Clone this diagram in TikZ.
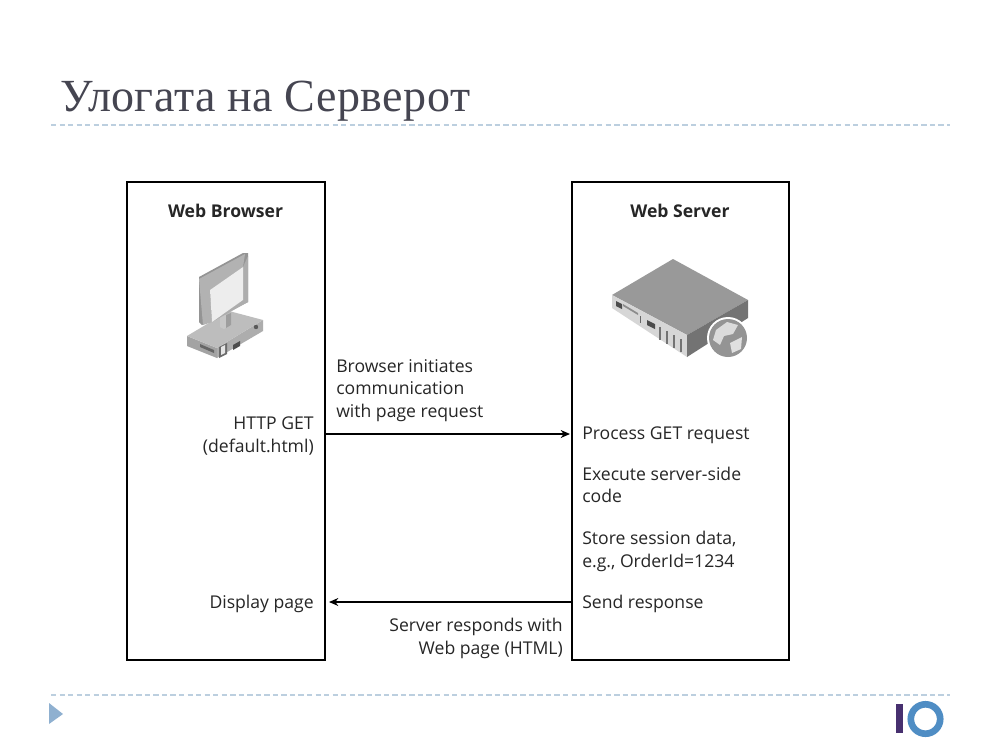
\documentclass[tikz,border=0pt]{standalone}
\usepackage{fontspec}
\setmainfont{Open Sans}
\newfontfamily\titlefont[LetterSpace=1]{Liberation Serif}
\usetikzlibrary{arrows.meta,calc}
\definecolor{titlecol}{HTML}{454551}
\definecolor{dashcol}{HTML}{BCCFDF}
\definecolor{trianglecol}{HTML}{8FB0D0}
\definecolor{iobar}{HTML}{47306F}
\definecolor{ioring}{HTML}{4F8DC4}
\tikzset{
  x=0.75pt,y=-0.75pt,
  lbl/.style={font=\fontsize{13.2}{17}\selectfont,text=black!85,inner sep=0},
  lblL/.style={lbl,align=left,anchor=west},
  lblR/.style={lbl,align=right,anchor=east},
  head/.style={font=\fontsize{13.2}{16}\selectfont\bfseries,text=black!85,inner sep=0},
  flow/.style={draw=black,line width=1pt,-{Stealth[length=7pt,width=6pt]}},
  rule/.style={draw=dashcol,line width=0.9pt,dash pattern=on 4pt off 2.4pt},
}
\begin{document}
\begin{tikzpicture}
\useasboundingbox (0,0) rectangle (1000,750);
\fill[white] (0,0) rectangle (1000,750);
% title
\node[font=\titlefont\fontsize{34.5}{36}\selectfont,text=titlecol,inner sep=0,anchor=base west] (title) at (60,111) {Улогата на Серверот};
\coordinate (ruleAl) at (51,125); \coordinate (ruleAr) at (950,125);
\draw[rule] (ruleAl) -- (ruleAr);
\coordinate (ruleBl) at (51,695); \coordinate (ruleBr) at (950,695);
\draw[rule] (ruleBl) -- (ruleBr);
% panels
\draw[line width=1.5pt] (127,182) rectangle (325,660);
\draw[line width=1.5pt] (572,182) rectangle (789,660);
\coordinate (browserE) at (325,434);
\coordinate (browserW) at (329,602);
\coordinate (serverW) at (570,434);
\coordinate (serverE) at (572,602);
\node[head] (h1) at (225.5,211) {Web Browser};
\node[head] (h2) at (680,211) {Web Server};
% workstation icon: base
\fill[black!36] (187,336) -- (187,346) -- (217,358) -- (217,348) -- cycle;
\fill[black!32] (217,348) -- (263,320) -- (263,331) -- (217,358) -- cycle;
\fill[black!26] (187,336) -- (229,311) -- (263,320) -- (217,348) -- cycle;
% stand
\fill[black!22] (220,316) -- (230,314) -- (231,325) -- (224,329) -- (220,327) -- cycle;
\fill[black!38] (226,315) -- (231,313) -- (231,325) -- (226,328) -- cycle;
% monitor
\fill[black!42] (199,277) -- (243,253) -- (248,253) -- (248,302) -- (202,325) -- (199,322) -- cycle;
\fill[black!30] (199,279) -- (245,254) -- (243,267) -- (210,290) -- (212,322) -- (203,325) -- cycle;
\fill[black!32] (243,267) -- (248,256) -- (248,302) -- (212,322) -- (243,300) -- cycle;
\fill[black!7] (210,290) -- (243,267) -- (243,300) -- (212,322) -- cycle;
% base details
\fill[black!58] (219,347) -- (227,343) -- (227,354) -- (219,358) -- cycle;
\fill[black!10] (221,347) -- (225,345) -- (225,353) -- (221,355) -- cycle;
\fill[black!70] (233,345) -- (240,341) -- (240,346) -- (233,350) -- cycle;
\fill[black!65] (256,327) circle (2.2);
\fill[black!60] (200,344) -- (214,350) -- (214,353) -- (200,347) -- cycle;
% server icon
\fill[black!40] (612,295) -- (673,259) -- (748,300) -- (687,335) -- cycle;
\fill[black!16] (612,295) -- (687,335) -- (687,357) -- (612,308) -- cycle;
\fill[black!55] (687,335) -- (748,300) -- (748,318) -- (687,357) -- cycle;
\fill[black!70] (616,301) -- (622,304) -- (622,309) -- (616,306) -- cycle;
\fill[black!45] (623,304) -- (638,313) -- (638,315) -- (623,306) -- cycle;
\fill[black!70] (647,320) -- (655,324) -- (655,329) -- (647,325) -- cycle;
\fill[black!60] (640,316) rectangle (641,323);
\foreach \xx/\yy in {659/327,666/331,673/335,680/339}{\fill[black!55] (\xx,\yy) rectangle ++(2,13);}
\fill[white] (728,338) circle (21);
\fill[black!42] (728,338) circle (19);
\fill[black!14] (716,330) -- (727,322) -- (738,325) -- (733,334) -- (724,336) -- (720,345) -- (713,340) -- cycle;
\fill[black!12] (730,343) -- (742,337) -- (741,349) -- (732,353) -- cycle;
% labels
\node[lblL] (n1) at (336,390.5) {Browser initiates\\communication\\with page request};
\node[lblR] (n2) at (314,436) {HTTP GET\\(default.html)};
\node[lblL] (n3) at (582,435.5) {Process GET request};
\node[lblL] (n4) at (582,485) {Execute server-side\\code};
\node[lblL] (n5) at (582,551.5) {Store session data,\\e.g., OrderId=1234};
\node[lblL] (n6) at (582,604) {Send response};
\node[lblR] (n7) at (314,604) {Display page};
\node[lblR] (n8) at (563,638.5) {Server responds with\\Web page (HTML)};
% arrows
\draw[flow] (browserE) -- (serverW);
\draw[flow] (serverE) -- (browserW);
% footer
\fill[trianglecol] (49,703) -- (63,714) -- (49,724) -- cycle;
\fill[iobar] (896,704) rectangle (903,733);
\draw[ioring,line width=5pt] (925.5,719) circle (14.7);
\end{tikzpicture}
\end{document}
